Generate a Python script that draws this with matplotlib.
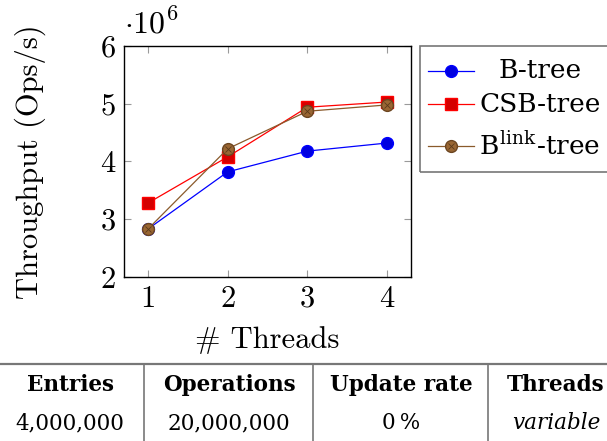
import matplotlib
matplotlib.use("Agg")
import matplotlib.pyplot as plt
from matplotlib.lines import Line2D
from matplotlib.patches import Rectangle

plt.rcParams['mathtext.fontset'] = 'cm'
plt.rcParams['axes.unicode_minus'] = False

threads = [1, 2, 3, 4]
btree = [2.83, 3.82, 4.18, 4.32]
csb_tree = [3.28, 4.08, 4.94, 5.03]
blink_tree = [2.83, 4.22, 4.87, 4.98]
y_ticks = [2, 3, 4, 5, 6]
series_labels = ["B-tree", "CSB-tree", r"B$^{\mathregular{link}}$-tree"]

table_header = ["Entries", "Operations", "Update rate", "Threads"]
table_row = ["4,000,000", "20,000,000", "0\u2009%", "variable"]

W, H = 607, 441
fig = plt.figure(figsize=(W / 100, H / 100), dpi=100)

def fx(px):
    return px / W

def fy(py):
    return 1 - py / H

ax_l, ax_r, ax_t, ax_b = 124, 411, 46, 277
ax = fig.add_axes([fx(ax_l), fy(ax_b), fx(ax_r - ax_l), (ax_b - ax_t) / H])

cm = "cmr10"
fs = 22

styles = [
    dict(color="#0000ff", marker="o", mfc="#0000e0", mec="#0000ff", ms=8.5),
    dict(color="#ff0000", marker="s", mfc="#d40000", mec="#ff0000", ms=8.5),
    dict(color="#8a5a2b", marker="o", mfc="#996633", mec="#6b4520", ms=8.5),
]
series = [btree, csb_tree, blink_tree]
for vals, st in zip(series, styles):
    ax.plot(threads, vals, lw=0.9, zorder=3, **st)
    if st is styles[2]:
        ax.plot(threads, vals, ls="none", marker="x", ms=5, mec="#5a3a1a",
                mew=0.6, zorder=4)

ax.set_xlim(0.7, 4.3)
ax.set_ylim(2, 6)
ax.set_xticks(threads)
ax.set_xticklabels([str(t) for t in threads], fontfamily=cm, fontsize=fs)
ax.set_yticks(y_ticks)
ax.set_yticklabels([str(t) for t in y_ticks], fontfamily=cm, fontsize=fs)
ax.tick_params(direction="in", length=5, width=0.8, color="#9a9a9a",
               top=True, right=True, pad=6)
for s in ax.spines.values():
    s.set_linewidth(1.0)
    s.set_color("black")

fig.text(fx(124), fy(24), r"$\cdot 10^{6}$", fontsize=fs + 1, ha="left", va="center")
fig.text(fx(267), fy(340), "# Threads", fontfamily=cm, fontsize=fs,
         ha="center", va="center")
fig.text(fx(30), fy(162), "Throughput (Ops/s)", fontfamily=cm, fontsize=fs,
         ha="center", va="center", rotation=90)

# legend box, extending past the right edge
leg_l, leg_t, leg_b = 420, 46, 172
fig.patches.append(Rectangle((fx(leg_l), fy(leg_b)), fx(W + 20 - leg_l),
                             (leg_b - leg_t) / H, transform=fig.transFigure,
                             fill=False, ec="#777777", lw=1.2, clip_on=False))
leg_y = [71, 104, 146]
for lab, st, y in zip(series_labels, styles, leg_y):
    fig.lines.append(Line2D([fx(428), fx(474)], [fy(y), fy(y)],
                            transform=fig.transFigure, lw=0.9, color=st["color"]))
    fig.lines.append(Line2D([fx(451)], [fy(y)], transform=fig.transFigure,
                            ls="none", marker=st["marker"], mfc=st["mfc"],
                            mec=st["mec"], ms=st["ms"]))
    if st is styles[2]:
        fig.lines.append(Line2D([fx(451)], [fy(y)], transform=fig.transFigure,
                                ls="none", marker="x", ms=5, mec="#5a3a1a", mew=0.6))
    fig.text(fx(540), fy(y), lab, fontfamily="DejaVu Serif", fontsize=19,
             ha="center", va="center")

# parameter table
rule = "#777777"
fig.lines.append(Line2D([0, 1], [fy(364), fy(364)], transform=fig.transFigure,
                        color=rule, lw=1.6))
for x in [144, 313, 488]:
    fig.lines.append(Line2D([fx(x), fx(x)], [fy(364), 0], transform=fig.transFigure,
                            color=rule, lw=1.2))
centers = [70, 229, 401, 556]
for c, h, v in zip(centers, table_header, table_row):
    fig.text(fx(c), fy(385), h, fontfamily="DejaVu Serif", fontweight="bold",
             fontsize=15.5, ha="center", va="center")
    fig.text(fx(c), fy(423), v, fontfamily="DejaVu Serif", fontsize=15.5,
             ha="center", va="center", style="italic" if v == "variable" else "normal")

fig.savefig("out.png", dpi=100)
